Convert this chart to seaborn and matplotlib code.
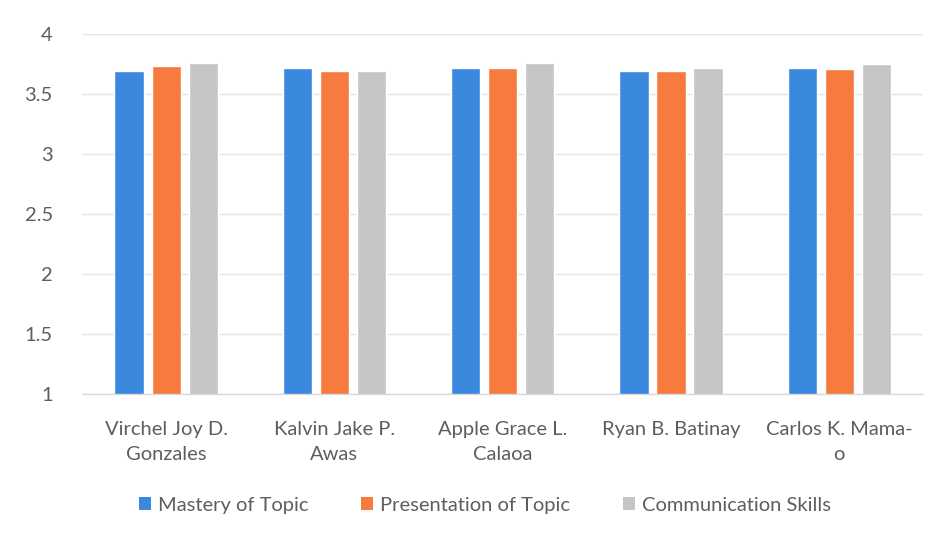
import matplotlib
matplotlib.use("Agg")
import matplotlib.pyplot as plt
import seaborn as sns
import pandas as pd
from matplotlib.patches import Patch

students = ["Virchel Joy D.\nGonzales", "Kalvin Jake P.\nAwas", "Apple Grace L.\nCalaoa",
            "Ryan B. Batinay", "Carlos K. Mama-\no"]
criteria = ["Mastery of Topic", "Presentation of Topic", "Communication Skills"]
mastery = [3.69, 3.72, 3.72, 3.69, 3.72]
presentation = [3.73, 3.69, 3.72, 3.69, 3.71]
communication = [3.76, 3.69, 3.76, 3.72, 3.75]
yticks = [1, 1.5, 2, 2.5, 3, 3.5, 4]
ytick_labels = ["1", "1.5", "2", "2.5", "3", "3.5", "4"]

colors = ["#3A89DF", "#F77B3F", "#C3C5C7"]
text_color = "#5E5E5E"

sns.set_theme(style="white")
plt.rcParams["font.family"] = ["Lato", "DejaVu Sans"]

rows = []
for crit, vals in zip(criteria, [mastery, presentation, communication]):
    for s, v in zip(students, vals):
        rows.append({"Student": s, "Criterion": crit, "Score": v})
df = pd.DataFrame(rows)

fig = plt.figure(figsize=(9.36, 5.4), dpi=100)
ax = fig.add_axes([0.0876, 0.27, 0.899, 0.667])

sns.barplot(data=df, x="Student", y="Score", hue="Criterion", order=students,
            hue_order=criteria, palette=colors, width=0.66, gap=0.21,
            ax=ax, legend=False, saturation=1)

ax.set_ylim(1, 4)
ax.set_yticks(yticks)
ax.set_yticklabels(ytick_labels)
ax.set_xlim(-0.5, len(students) - 0.5)
ax.grid(axis="y", color="#E5E5E5", linewidth=1)
ax.set_axisbelow(True)
for side in ["top", "right", "left"]:
    ax.spines[side].set_visible(False)
ax.spines["bottom"].set_color("#D9D9D9")
ax.spines["bottom"].set_linewidth(1)
ax.set_xlabel("")
ax.set_ylabel("")
ax.tick_params(axis="both", length=0, labelsize=14.5, labelcolor=text_color)
ax.tick_params(axis="y", pad=21)
ax.tick_params(axis="x", pad=19)
for lbl in ax.get_xticklabels():
    lbl.set_linespacing(1.6)

handles = [Patch(facecolor=c, edgecolor="none") for c in colors]
fig.legend(handles, criteria, loc="center", bbox_to_anchor=(0.518, 0.064), ncol=3,
           frameon=False, fontsize=14.5, labelcolor=text_color, handlelength=0.6,
           handleheight=0.6, handletextpad=0.35, columnspacing=2.6)

fig.savefig("out.png", dpi=100, facecolor="white")
